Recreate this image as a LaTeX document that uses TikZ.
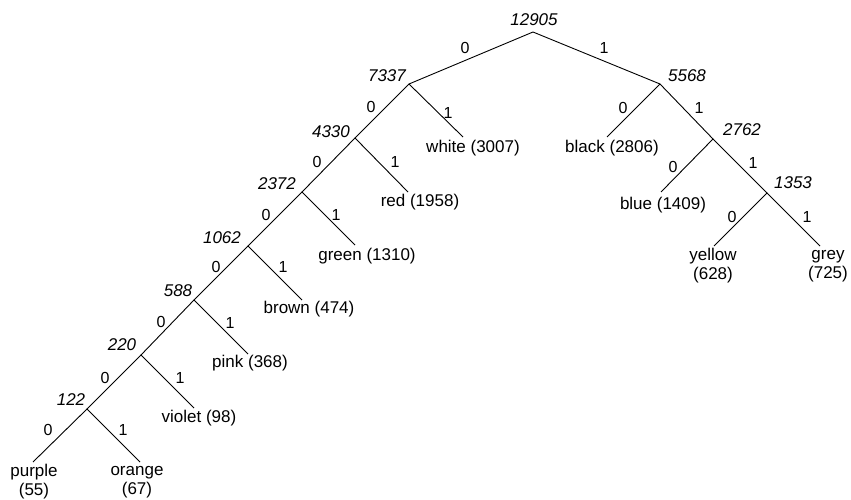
\documentclass[tikz,border=0pt]{standalone}
\usepackage{fontspec}
\setmainfont{Liberation Sans}
\begin{document}
\begin{tikzpicture}[x=1pt,y=-1pt,
  edge/.style={draw=black,line width=0.9pt},
  wt/.style={inner sep=0pt,anchor=center,font=\fontsize{17}{19}\selectfont\itshape},
  leaf/.style={inner sep=0pt,anchor=center,align=center,font=\fontsize{17}{19}\selectfont},
  bit/.style={inner sep=0pt,anchor=center,font=\fontsize{16}{19}\selectfont}]
\useasboundingbox (0,0) rectangle (851,500);
% junctions
\coordinate (r) at (533,32);
\coordinate (n7337) at (409,84);
\coordinate (n5568) at (660,84);
\coordinate (n4330) at (355,138);
\coordinate (n2372) at (302,192);
\coordinate (n1062) at (248,246);
\coordinate (n588) at (194,300);
\coordinate (n220) at (141,355);
\coordinate (n122) at (87,409);
\coordinate (n2762) at (713,139);
\coordinate (n1353) at (767,193);
% leaf ends
\coordinate (cwhite) at (463,137);
\coordinate (cred) at (408,192);
\coordinate (cgreen) at (355,245);
\coordinate (cbrown) at (302,300);
\coordinate (cpink) at (248,354);
\coordinate (cviolet) at (194,408);
\coordinate (corange) at (140,462);
\coordinate (cpurple) at (33,462);
\coordinate (cblack) at (607,137);
\coordinate (cblue) at (661,192);
\coordinate (cyellow) at (714,246);
\coordinate (cgrey) at (820,246);
% edges
\draw[edge] (n7337) -- (r) -- (n5568);
\draw[edge] (n4330) -- (n7337) -- (cwhite);
\draw[edge] (n2372) -- (n4330) -- (cred);
\draw[edge] (n1062) -- (n2372) -- (cgreen);
\draw[edge] (n588) -- (n1062) -- (cbrown);
\draw[edge] (n220) -- (n588) -- (cpink);
\draw[edge] (n122) -- (n220) -- (cviolet);
\draw[edge] (cpurple) -- (n122) -- (corange);
\draw[edge] (cblack) -- (n5568) -- (n2762);
\draw[edge] (cblue) -- (n2762) -- (n1353);
\draw[edge] (cyellow) -- (n1353) -- (cgrey);
% weights
\node[wt] (w12905) at (534,20) {12905};
\node[wt] (w7337) at (387,76) {7337};
\node[wt] (w5568) at (687,76) {5568};
\node[wt] (w4330) at (331,132) {4330};
\node[wt] (w2372) at (277,184) {2372};
\node[wt] (w1062) at (222,238) {1062};
\node[wt] (w588) at (178,291) {588};
\node[wt] (w220) at (122,345) {220};
\node[wt] (w122) at (71,400) {122};
\node[wt] (w2762) at (742,130) {2762};
\node[wt] (w1353) at (793,183) {1353};
% leaves
\node[leaf] (lwhite) at (473,148) {white (3007)};
\node[leaf] (lred) at (420,202) {red (1958)};
\node[leaf] (lgreen) at (367,256) {green (1310)};
\node[leaf] (lbrown) at (309,309) {brown (474)};
\node[leaf] (lpink) at (250,363) {pink (368)};
\node[leaf] (lviolet) at (199,418) {violet (98)};
\node[leaf] (lpurple) at (34,482) {purple\\(55)};
\node[leaf] (lorange) at (137,482) {orange\\(67)};
\node[leaf] (lblack) at (612,148) {black (2806)};
\node[leaf] (lblue) at (663,205) {blue (1409)};
\node[leaf] (lyellow) at (713,266) {yellow\\(628)};
\node[leaf] (lgrey) at (828,266) {grey\\(725)};
% bits
\node[bit] (b1) at (465,48) {0};
\node[bit] (b2) at (604,48) {1};
\node[bit] (b3) at (371,107) {0};
\node[bit] (b4) at (448,113) {1};
\node[bit] (b5) at (317,162) {0};
\node[bit] (b6) at (395,162) {1};
\node[bit] (b7) at (266,215) {0};
\node[bit] (b8) at (336,215) {1};
\node[bit] (b9) at (216,267) {0};
\node[bit] (b10) at (283,267) {1};
\node[bit] (b11) at (161,322) {0};
\node[bit] (b12) at (230,323) {1};
\node[bit] (b13) at (105,378) {0};
\node[bit] (b14) at (180,378) {1};
\node[bit] (b15) at (48,430) {0};
\node[bit] (b16) at (123,430) {1};
\node[bit] (b17) at (623,108) {0};
\node[bit] (b18) at (699,108) {1};
\node[bit] (b19) at (673,167) {0};
\node[bit] (b20) at (753,163) {1};
\node[bit] (b21) at (732,217) {0};
\node[bit] (b22) at (807,217) {1};
\end{tikzpicture}
\end{document}
